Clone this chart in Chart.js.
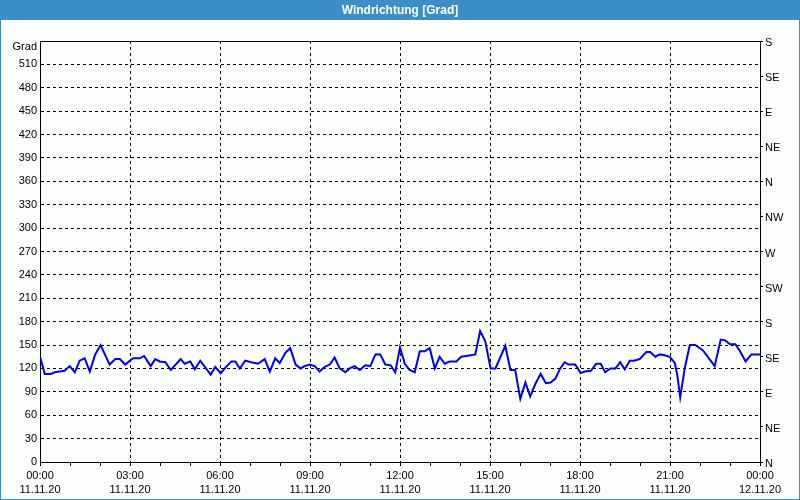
<!DOCTYPE html>
<html>
<head>
<meta charset="utf-8">
<script src="https://cdn.jsdelivr.net/npm/chart.js@4/dist/chart.umd.min.js"></script>
<style>
  html, body { margin: 0; padding: 0; background: #fcfefc; }
  canvas { display: block; }
</style>
</head>
<body>
<canvas id="c" width="800" height="500"></canvas>
<script>
const chartTitle = 'Windrichtung [Grad]';
const unitLabel = 'Grad';
// time of day in hours (0 = 00:00 11.11.20, 24 = 00:00 12.11.20)
const hours = [
  0.00, 0.16, 0.36, 0.49, 0.66, 0.82, 0.99, 1.16, 1.32, 1.49, 1.66, 1.84, 2.02, 2.32, 2.51, 2.66, 2.84,
  3.10, 3.32, 3.47, 3.69, 3.84, 3.99, 4.18, 4.36, 4.69, 4.82, 5.01, 5.16, 5.34, 5.69, 5.84, 6.02,
  6.18, 6.38, 6.51, 6.66, 6.84, 7.04, 7.27, 7.49, 7.66, 7.84, 7.99, 8.18, 8.34, 8.52, 8.69, 8.82,
  8.99, 9.16, 9.32, 9.49, 9.66, 9.82, 9.99, 10.18, 10.32, 10.49, 10.66, 10.84, 11.01, 11.18, 11.34,
  11.51, 11.69, 11.84, 12.00, 12.16, 12.32, 12.49, 12.66, 12.82, 12.99, 13.16, 13.32, 13.49, 13.66,
  13.88, 14.04, 14.21, 14.51, 14.67, 14.84, 15.02, 15.18, 15.51, 15.68, 15.84, 16.01, 16.18, 16.34,
  16.51, 16.69, 16.86, 17.02, 17.18, 17.34, 17.49, 17.62, 17.84, 18.02, 18.16, 18.36, 18.54, 18.69,
  18.84, 19.01, 19.18, 19.34, 19.49, 19.66, 19.80, 19.99, 20.21, 20.34, 20.51, 20.66, 20.82, 20.99,
  21.16, 21.24, 21.34, 21.49, 21.66, 21.84, 22.10, 22.49, 22.69, 22.84, 23.00, 23.18, 23.32, 23.52,
  23.71, 23.84, 24.00
];
const windDir = [
  135, 113, 113, 115, 116, 117, 123, 115, 130, 133, 116, 138, 150, 125, 132, 132, 125,
  133, 133, 136, 123, 132, 129, 128, 118, 132, 126, 129, 119, 130, 112, 122, 114,
  121, 129, 129, 120, 130, 128, 126, 132, 116, 133, 127, 140, 146, 125, 120, 123,
  125, 123, 116, 122, 125, 134, 120, 115, 120, 123, 118, 124, 123, 138, 138,
  125, 124, 115, 147, 126, 118, 115, 142, 142, 146, 120, 135, 126, 129, 129,
  135, 136, 138, 168, 155, 120, 120, 149, 118, 118, 81, 102, 84, 100, 113, 101,
  102, 107, 120, 128, 125, 125, 114, 116, 117, 126, 126, 115, 120, 120, 128, 119,
  130, 130, 132, 141, 141, 135, 138, 137, 135, 127, 112, 83, 120, 150, 150, 143,
  123, 157, 156, 151, 151, 143, 129, 138, 138, 138
];
const leftTicks = [0, 30, 60, 90, 120, 150, 180, 210, 240, 270, 300, 330, 360, 390, 420, 450, 480, 510, 540];
const compassValues = [0, 45, 90, 135, 180, 225, 270, 315, 360, 405, 450, 495, 540];
const compassLabels = ['N', 'NE', 'E', 'SE', 'S', 'SW', 'W', 'NW', 'N', 'NE', 'E', 'SE', 'S'];
const xTickHours = [0, 3, 6, 9, 12, 15, 18, 21, 24];
const xTimeLabels = ['00:00', '03:00', '06:00', '09:00', '12:00', '15:00', '18:00', '21:00', '00:00'];
const xDateLabels = ['11.11.20', '11.11.20', '11.11.20', '11.11.20', '11.11.20', '11.11.20', '11.11.20', '11.11.20', '12.11.20'];

const FONT = 'Liberation Sans';
const frameBlue = '#3c8fc6';

const framePlugin = {
  id: 'frame',
  beforeDraw(chart) {
    const ctx = chart.ctx;
    ctx.save();
    ctx.fillStyle = '#fcfefc';
    ctx.fillRect(0, 0, chart.width, chart.height);
    ctx.fillStyle = frameBlue;
    ctx.fillRect(0, 0, chart.width, 20);
    ctx.fillRect(0, 0, 1, chart.height);
    ctx.fillRect(chart.width - 1, 0, 1, chart.height);
    ctx.fillRect(0, chart.height - 1, chart.width, 1);
    ctx.fillStyle = '#ffffff';
    ctx.font = 'bold 12px "' + FONT + '"';
    ctx.textAlign = 'center';
    ctx.textBaseline = 'middle';
    ctx.fillText(chartTitle, chart.width / 2, 10.5);
    ctx.restore();
  },
  afterDraw(chart) {
    const ctx = chart.ctx;
    const a = chart.chartArea;
    ctx.save();
    ctx.strokeStyle = '#000';
    ctx.lineWidth = 1;
    ctx.beginPath();
    const y = Math.round(a.top) + 0.5;
    ctx.moveTo(Math.round(a.left), y);
    ctx.lineTo(Math.round(a.right) + 1, y);
    ctx.stroke();
    ctx.fillStyle = '#000';
    ctx.font = '11px "' + FONT + '"';
    ctx.textAlign = 'right';
    ctx.textBaseline = 'middle';
    ctx.fillText(unitLabel, a.left - 3, a.top + 6);
    ctx.restore();
  }
};

new Chart(document.getElementById('c'), {
  type: 'line',
  data: {
    datasets: [{
      data: hours.map((h, i) => ({ x: h, y: windDir[i] })),
      borderColor: '#0000ee',
      borderWidth: 2,
      pointRadius: 0,
      tension: 0,
      fill: false
    }]
  },
  options: {
    responsive: false,
    animation: false,
    events: [],
    layout: { padding: { top: 41, left: 0, right: 0, bottom: 0 } },
    plugins: { legend: { display: false }, title: { display: false }, tooltip: { enabled: false } },
    scales: {
      x: {
        type: 'linear',
        min: 0, max: 24,
        afterFit(s) { s.height = 38; },
        afterBuildTicks(s) { s.ticks = Array.from({ length: 25 }, (_, i) => ({ value: i })); },
        ticks: {
          autoSkip: false,
          maxRotation: 0,
          padding: 2,
          color: '#000',
          font: { family: FONT, size: 11, lineHeight: 1.36 },
          callback(v) {
            const k = xTickHours.indexOf(v);
            return k >= 0 ? [xTimeLabels[k], xDateLabels[k]] : '';
          }
        },
        grid: {
          color(ctx) {
            const v = ctx.tick ? ctx.tick.value : -1;
            return (v % 3 === 0 && v > 0 && v < 24) ? '#000' : 'rgba(0,0,0,0)';
          },
          tickColor: '#000',
          tickLength: 4,
          lineWidth: 1
        },
        border: { display: true, color: '#000', width: 1, dash: [3, 3] }
      },
      y: {
        position: 'left',
        min: 0, max: 540,
        afterFit(s) { s.width = 40; },
        afterBuildTicks(s) { s.ticks = leftTicks.map(v => ({ value: v })); },
        ticks: {
          padding: 3,
          color: '#000',
          font: { family: FONT, size: 11 },
          callback(v) { return v === 540 ? '' : String(v); }
        },
        grid: {
          drawTicks: false,
          color(ctx) {
            const v = ctx.tick ? ctx.tick.value : -1;
            return (v > 0 && v < 540) ? '#000' : 'rgba(0,0,0,0)';
          },
          lineWidth: 1
        },
        border: { display: true, color: '#000', width: 1, dash: [3, 3] }
      },
      y2: {
        position: 'right',
        min: 0, max: 540,
        afterFit(s) { s.width = 40; },
        afterBuildTicks(s) { s.ticks = compassValues.map(v => ({ value: v })); },
        ticks: {
          padding: 2,
          labelOffset: 2,
          color: '#000',
          font: { family: FONT, size: 11 },
          callback(v) { const k = compassValues.indexOf(v); return k >= 0 ? compassLabels[k] : ''; }
        },
        grid: {
          drawOnChartArea: false,
          tickColor: '#000',
          tickLength: 3
        },
        border: { display: true, color: '#000', width: 1 }
      }
    }
  },
  plugins: [framePlugin]
});
</script>
</body>
</html>
